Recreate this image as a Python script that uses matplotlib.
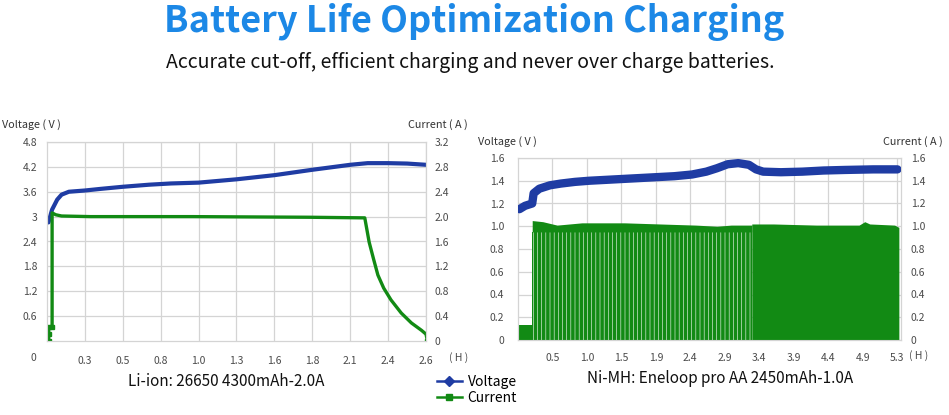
import numpy as np
import matplotlib
matplotlib.use("Agg")
import matplotlib.pyplot as plt
from matplotlib.lines import Line2D

plt.rcParams['font.family'] = ['Noto Sans CJK SC', 'DejaVu Sans']
plt.rcParams['hatch.linewidth'] = 2.6

BLUE = '#1f3ca3'
GREEN = '#128a14'
GRID = '#d4d4d4'
TICK = '#4a4a4a'

# ---- Li-ion 26650 (left chart) ----
li_ticks_h = [0.26, 0.52, 0.78, 1.04, 1.30, 1.56, 1.82, 2.08, 2.34, 2.60]
li_tick_labels = ['0.3', '0.5', '0.8', '1.0', '1.3', '1.6', '1.8', '2.1', '2.4', '2.6']
li_volt_t = [0.01, 0.035, 0.07, 0.10, 0.15, 0.26, 0.37, 0.52, 0.70, 0.85, 1.04, 1.17,
             1.30, 1.43, 1.56, 1.70, 1.82, 1.95, 2.08, 2.20, 2.34, 2.47, 2.60]
li_volt = [2.86, 3.17, 3.41, 3.53, 3.60, 3.63, 3.67, 3.72, 3.77, 3.80, 3.82, 3.86,
           3.90, 3.95, 4.00, 4.07, 4.13, 4.19, 4.25, 4.29, 4.29, 4.28, 4.25]
li_curr_t = [0.012, 0.012, 0.012, 0.035, 0.035, 0.06, 0.10, 0.30, 1.00, 1.80, 2.18, 2.19,
             2.21, 2.24, 2.27, 2.31, 2.36, 2.43, 2.50, 2.57, 2.60, 2.61]
li_curr = [0.0, 0.12, 0.22, 0.22, 2.06, 2.03, 2.01, 2.0, 2.0, 1.99, 1.98, 1.85,
           1.59, 1.32, 1.06, 0.85, 0.66, 0.45, 0.29, 0.17, 0.11, 0.0]

# ---- Ni-MH Eneloop pro AA (right chart) ----
ni_ticks_h = [0.485, 0.97, 1.455, 1.94, 2.425, 2.91, 3.395, 3.88, 4.365, 4.85, 5.335]
ni_tick_labels = ['0.5', '1.0', '1.5', '1.9', '2.4', '2.9', '3.4', '3.9', '4.4', '4.9', '5.3']
ni_volt_t = [0.02, 0.10, 0.20, 0.22, 0.30, 0.45, 0.60, 0.80, 1.00, 1.30, 1.60, 1.90,
             2.20, 2.45, 2.65, 2.80, 2.95, 3.10, 3.25, 3.35, 3.45, 3.70, 4.00, 4.30,
             4.60, 5.00, 5.34]
ni_volt = [1.15, 1.18, 1.20, 1.29, 1.33, 1.36, 1.375, 1.39, 1.40, 1.41, 1.42, 1.43,
           1.44, 1.455, 1.48, 1.51, 1.545, 1.555, 1.54, 1.50, 1.48, 1.475, 1.48, 1.49,
           1.495, 1.50, 1.50]
# pre-charge at low current
ni_pre_t = [0.0, 0.20]
ni_pre_i = [0.13, 0.13]
# pulsed charging: peak envelope and level where pulses merge
ni_pulse_t = [0.20, 0.35, 0.55, 0.90, 1.50, 2.00, 2.50, 2.80, 3.00, 3.29]
ni_pulse_peak = [1.05, 1.04, 1.01, 1.03, 1.03, 1.02, 1.01, 1.00, 1.01, 1.01]
ni_pulse_merge = 0.95
# continuous section
ni_cont_t = [3.29, 3.60, 4.20, 4.80, 4.88, 4.95, 5.30, 5.36]
ni_cont_i = [1.02, 1.02, 1.01, 1.01, 1.04, 1.02, 1.01, 0.99]

fig = plt.figure(figsize=(9.49, 4.15), dpi=100)

fig.text(0.5, 0.948, 'Battery Life Optimization Charging', ha='center', va='center',
         fontsize=26, fontweight='bold', color='#1c88e6')
fig.text(0.496, 0.85, 'Accurate cut-off, efficient charging and never over charge batteries.',
         ha='center', va='center', fontsize=14, color='#111111')


def style_axes(ax, ax_r):
    for a in (ax, ax_r):
        for s in a.spines.values():
            s.set_color(GRID)
        a.tick_params(length=0, labelsize=7.5, colors=TICK)
    ax.grid(True, color=GRID, lw=0.9)
    ax.set_axisbelow(True)


# left chart
ax1 = fig.add_axes([47 / 949, 74 / 415, 379 / 949, 199 / 415])
ax1r = ax1.twinx()
style_axes(ax1, ax1r)
ax1.set_xlim(0, 2.6)
ax1.set_ylim(0, 4.8)
ax1r.set_ylim(0, 3.2)
ax1.set_xticks(li_ticks_h, li_tick_labels)
ax1.set_yticks(np.arange(1, 9) * 0.6, ['0.6', '1.2', '1.8', '2.4', '3', '3.6', '4.2', '4.8'])
ax1r.set_yticks(np.arange(0, 9) * 0.4, ['0', '0.4', '0.8', '1.2', '1.6', '2.0', '2.4', '2.8', '3.2'])
ax1.tick_params(axis='x', pad=11)
ax1.tick_params(axis='y', pad=7)
ax1r.tick_params(axis='y', pad=6)
ax1.plot(li_volt_t, li_volt, color=BLUE, lw=3.0, solid_capstyle='round')
n = len(li_curr)
ax1r.plot(li_curr_t, li_curr, color=GREEN, lw=2.4, marker='s', ms=3.5,
          markevery=[0, 1, 2, 3, n - 1])
ax1.text(-0.035, -0.085, '0', transform=ax1.transAxes, ha='center', va='center',
         fontsize=7.5, color=TICK)
ax1.text(1.085, -0.085, '( H )', transform=ax1.transAxes, ha='center', va='center',
         fontsize=7.5, color=TICK)
ax1.text(-0.12, 1.09, 'Voltage ( V )', transform=ax1.transAxes, ha='left', va='center',
         fontsize=7.8, color='#333333')
ax1r.text(1.11, 1.09, 'Current ( A )', transform=ax1.transAxes, ha='right', va='center',
          fontsize=7.8, color='#333333')

# right chart (voltage and current share the 0-1.6 scale)
ax2 = fig.add_axes([518 / 949, 75 / 415, 383 / 949, 182 / 415])
ax2r = ax2.twinx()
style_axes(ax2, ax2r)
ax2.set_xlim(0, 5.39)
ax2.set_ylim(0, 1.6)
ax2r.set_ylim(0, 1.6)
ax2.set_xticks(ni_ticks_h, ni_tick_labels)
ylab = ['0', '0.2', '0.4', '0.6', '0.8', '1.0', '1.2', '1.4', '1.6']
ax2.set_yticks(np.arange(0, 9) * 0.2, ylab)
ax2r.set_yticks(np.arange(0, 9) * 0.2, ylab)
ax2.tick_params(axis='x', pad=9)
ax2.tick_params(axis='y', pad=10)
ax2r.tick_params(axis='y', pad=7)
ax2r.fill_between(ni_pre_t, 0, ni_pre_i, color=GREEN, lw=0)
ax2r.fill_between(ni_pulse_t, 0, ni_pulse_merge, facecolor='white', edgecolor=GREEN,
                  hatch='||||', lw=0)
ax2r.fill_between(ni_pulse_t, ni_pulse_merge, ni_pulse_peak, color=GREEN, lw=0)
ax2r.fill_between(ni_cont_t, 0, ni_cont_i, color=GREEN, lw=0)
ax2r.plot(ni_volt_t, ni_volt, color=BLUE, lw=6.0, solid_capstyle='round', zorder=3)
ax2.text(1.045, -0.085, '( H )', transform=ax2.transAxes, ha='center', va='center',
         fontsize=7.5, color=TICK)
ax2.text(-0.105, 1.09, 'Voltage ( V )', transform=ax2.transAxes, ha='left', va='center',
         fontsize=7.8, color='#333333')
ax2.text(1.11, 1.09, 'Current ( A )', transform=ax2.transAxes, ha='right', va='center',
         fontsize=7.8, color='#333333')

# captions and legend
fig.text(128 / 949, 1 - 381 / 415, 'Li-ion: 26650 4300mAh-2.0A', ha='left', va='center',
         fontsize=11, color='#111111')
fig.text(587 / 949, 1 - 378 / 415, 'Ni-MH: Eneloop pro AA 2450mAh-1.0A', ha='left', va='center',
         fontsize=11, color='#111111')
handles = [Line2D([], [], color=BLUE, marker='D', ms=5, lw=1.8),
           Line2D([], [], color=GREEN, marker='s', ms=5, lw=1.8)]
fig.legend(handles, ['Voltage', 'Current'], loc='center left',
           bbox_to_anchor=(430 / 949, 1 - 390 / 415), frameon=False, fontsize=10,
           handlelength=1.8, handletextpad=0.4, labelspacing=0.15, borderpad=0)

fig.savefig('out.png', dpi=100)
